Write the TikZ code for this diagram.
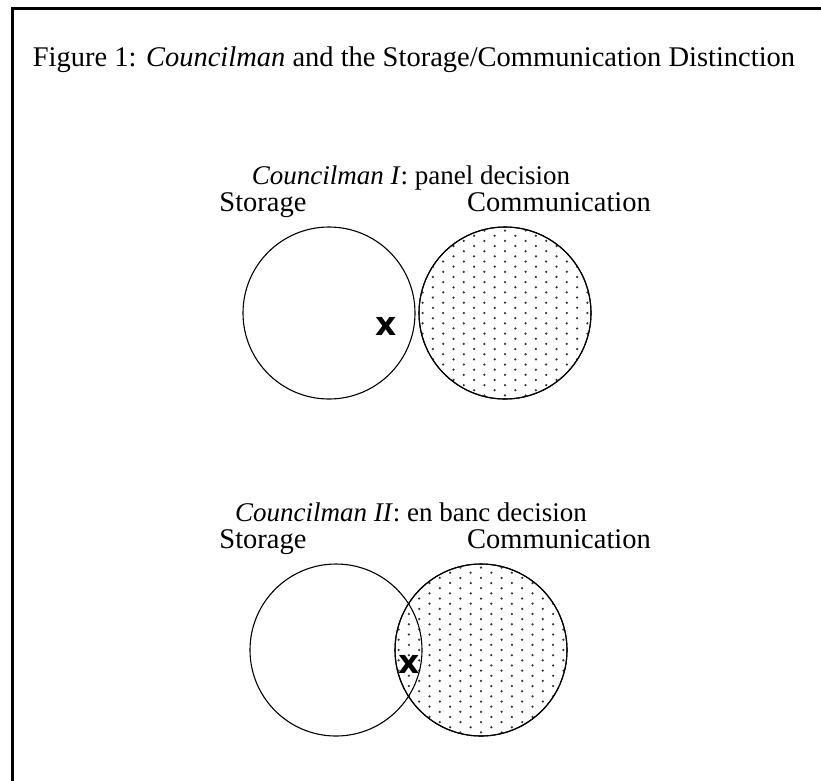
\documentclass[tikz,border=0pt]{standalone}
\usepackage{fontspec}
\setmainfont{Liberation Serif}
\newfontfamily\markfont{DejaVu Sans}
\usetikzlibrary{positioning}
\tikzset{every picture/.style={
  x=1pt,y=-1pt                  % One unit is one pixel, y down.
  }
}

\begin{document}
\begin{tikzpicture}[
      txt/.style={
        anchor=base,
        inner sep=0pt,
        font=\fontsize{#1}{#1}\selectfont
      },
      txt/.default=28.5,
      set/.style={
        circle,
        draw,
        line width=1.1pt,
        inner sep=0pt,
        minimum size=#1
      },
      cross/.style={
        inner sep=0pt,
        font=\markfont\bfseries\fontsize{33}{33}\selectfont
      }]

      \useasboundingbox (0,0) rectangle (821,780);

      % Draw the frame.
      \coordinate (fbot) at (12.5,781);
      \coordinate (fcorner) at (12.5,8.5);
      \coordinate (fright) at (822,8.5);
      \draw[line width=3pt] (fbot) -- (fcorner) -- (fright);

      % Render the caption.
      \node[txt] (title) at (414,66)
        {Figure 1: \textit{Councilman} and the Storage/Communication Distinction};

      % Helper: stipple a circle #1 with radius #2.
      \def\stipple#1#2{
        \begin{scope}
          \clip (#1.center) circle[radius=#2pt];
          \foreach \i in {-9,...,9} {
            \pgfmathsetmacro\off{mod(abs(\i),2)*5.15}
            \foreach \j in {-9,...,9}
              \fill[black!80] ([shift={(\i*10.3,\j*10.3+\off)}] #1.center)
                circle[radius=1.25pt];
          }
        \end{scope}
      }

      % Draw the panel decision.
      \node[txt=27] (panel) at (411,184) {\textit{Councilman I}: panel decision};
      \node[txt] (stor1lbl) at (263,211) {Storage};
      \node[txt] (comm1lbl) at (559,211) {Communication};
      \node[set=172pt] (stor1) at (329,313) {};
      \node[set=172pt] (comm1) at (505,313) {};
      \stipple{comm1}{86}
      \node[set=172pt] at (comm1) {};
      \node[cross] (x1) at (386,326) {x};

      % Draw the en banc decision.
      \node[txt=27] (banc) at (411,521) {\textit{Councilman II}: en banc decision};
      \node[txt] (stor2lbl) at (263,548) {Storage};
      \node[txt] (comm2lbl) at (559,548) {Communication};
      \node[set=172pt] (comm2) at (481,650) {};
      \stipple{comm2}{86}
      \node[set=172pt] (stor2) at (336,650) {};
      \node[set=172pt] at (comm2) {};
      \node[cross] (x2) at (409,664) {x};

    \end{tikzpicture}
\end{document}
